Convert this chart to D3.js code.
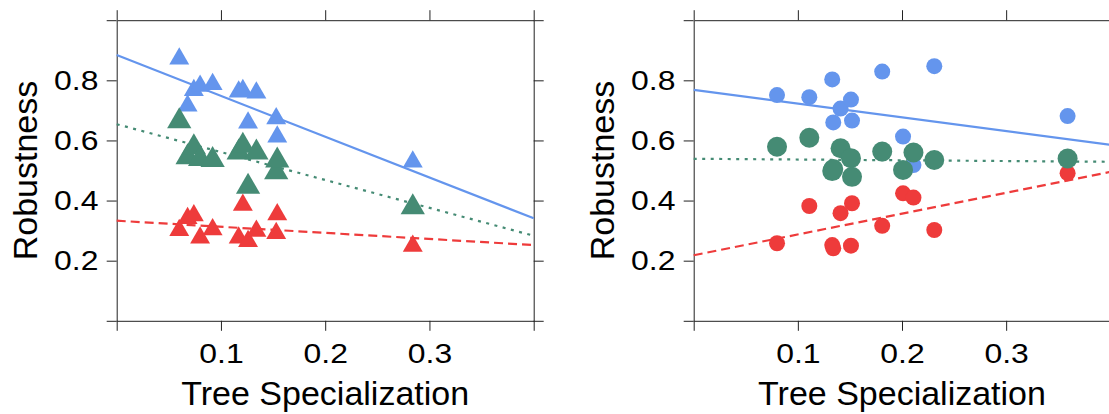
<!DOCTYPE html>
<html>
<head>
<meta charset="utf-8">
<script src="https://cdn.jsdelivr.net/npm/d3@7"></script>
<style>
  body { margin: 0; background: #fff; }
  svg { display: block; }
</style>
</head>
<body>
<svg width="1109" height="414"></svg>
<script>
// site values, left panel (triangles)
var leftX     = [0.060, 0.068, 0.074, 0.080, 0.092, 0.117, 0.121, 0.126, 0.134, 0.153, 0.154, 0.284]
var leftBlue  = [0.872, 0.715, 0.767, 0.781, 0.787, 0.762, 0.767, 0.659, 0.759, 0.673, 0.612, 0.529]
var leftGreen = [0.664, 0.544, 0.577, 0.538, 0.535, 0.560, 0.582, 0.446, 0.560, 0.494, 0.533, 0.378]
var leftRed   = [0.301, 0.341, 0.350, 0.276, 0.304, 0.276, 0.385, 0.265, 0.299, 0.291, 0.354, 0.249]

// right panel (circles)
var rightX     = [0.080, 0.111, 0.133, 0.134, 0.141, 0.151, 0.152, 0.181, 0.201, 0.211, 0.231, 0.359]
var rightBlue  = [0.751, 0.744, 0.803, 0.660, 0.706, 0.736, 0.666, 0.829, 0.613, 0.518, 0.847, 0.681]
var rightGreen = [0.579, 0.609, 0.498, 0.505, 0.574, 0.541, 0.479, 0.563, 0.502, 0.560, 0.535, 0.540]
var rightRed   = [0.258, 0.382, 0.252, 0.241, 0.358, 0.250, 0.391, 0.316, 0.424, 0.410, 0.302, 0.491]

// fitted lines (blue, green, red)
var leftIntercept  = [0.884, 0.654, 0.333]
var leftSlope      = [-1.3575, -0.9275, -0.2025]
var rightIntercept = [0.768, 0.539, 0.218]
var rightSlope     = [-0.457, -0.025, 0.693]

var xTicks = [0, 0.1, 0.2, 0.3, 0.4]
var yTicks = [0, 0.2, 0.4, 0.6, 0.8, 1.0]
var xLabels = ["", "0.1", "0.2", "0.3", ""]
var yLabels = ["", "0.2", "0.4", "0.6", "0.8", ""]

var colors = ["#6495ED", "#458B74", "#EE3B3B"]
var dashes = [null, "3,5.5", "9,5"]
var font = "'Liberation Sans', Arial, sans-serif"

var svg = d3.select("svg")

var drawPanel = function(p)
{
  var xScale = d3.scaleLinear()
                 .domain([0, 0.4])
                 .range([p.left, p.right])

  var yScale = d3.scaleLinear()
                 .domain([0, 1])
                 .range([320.8, 20.2])

  var g = svg.append("g")

  // the reference glyphs are a bit wider than Liberation Sans
  var styleAxis = function(a)
  {
    a.attr("font-family", font).attr("font-size", 28)
    a.selectAll("line,path").attr("stroke", "#222")
    a.selectAll("text").attr("transform", "scale(1.14,1)")
  }

  g.append("g")
   .attr("transform", "translate(0," + yScale(0) + ")")
   .call(d3.axisBottom(xScale).tickValues(xTicks).tickSize(10).tickSizeOuter(0)
           .tickPadding(12).tickFormat(function(d,i){return xLabels[i];}))
   .call(styleAxis)

  g.append("g")
   .attr("transform", "translate(0," + yScale(1) + ")")
   .call(d3.axisTop(xScale).tickValues(xTicks).tickSize(10).tickSizeOuter(0).tickFormat(""))
   .call(styleAxis)

  g.append("g")
   .attr("transform", "translate(" + p.left + ",0)")
   .call(d3.axisLeft(yScale).tickValues(yTicks).tickSize(10).tickSizeOuter(0)
           .tickPadding(6).tickFormat(function(d,i){return yLabels[i];}))
   .call(styleAxis)

  g.append("g")
   .attr("transform", "translate(" + p.right + ",0)")
   .call(d3.axisRight(yScale).tickValues(yTicks).tickSize(10).tickSizeOuter(0).tickFormat(""))
   .call(styleAxis)

  // fitted lines
  p.intercept.forEach(function(b, i){
    var line = d3.line()
                 .x(function(d){return xScale(d);})
                 .y(function(d){return yScale(b + p.slope[i] * d);})
    g.append("path")
     .datum([0, 0.4])
     .attr("d", line)
     .attr("fill", "none")
     .attr("stroke", colors[i])
     .attr("stroke-width", 2.2)
     .attr("stroke-dasharray", dashes[i])
  })

  // points: blue, red, green on top
  var order = [0, 2, 1]
  order.forEach(function(k){
    var pts = g.append("g").selectAll("path")
               .data(p.series[k])
               .enter()
               .append("path")
               .attr("transform", function(d,i){return "translate(" + xScale(p.x[i]) + "," + yScale(d) + ")";})
               .attr("fill", colors[k])
    if (p.shape == "triangle")
      pts.attr("d", d3.symbol().type(d3.symbolTriangle).size(k == 1 ? 255 : 172))
    else
      pts.attr("d", d3.symbol().type(d3.symbolCircle).size(k == 1 ? Math.PI * 100 : Math.PI * 64))
  })

  g.append("text")
   .attr("x", (p.left + p.right) / 2)
   .attr("y", 405)
   .attr("text-anchor", "middle")
   .attr("font-family", font)
   .attr("font-size", 34)
   .text("Tree Specialization")

  g.append("text")
   .attr("transform", "translate(" + (p.left - 80) + "," + yScale(0.5) + ") rotate(-90)")
   .attr("text-anchor", "middle")
   .attr("font-family", font)
   .attr("font-size", 34)
   .text("Robustness")
}

drawPanel({left: 116.7, right: 533.7, x: leftX, series: [leftBlue, leftGreen, leftRed],
           intercept: leftIntercept, slope: leftSlope, shape: "triangle"})
drawPanel({left: 693.7, right: 1110.3, x: rightX, series: [rightBlue, rightGreen, rightRed],
           intercept: rightIntercept, slope: rightSlope, shape: "circle"})
</script>
</body>
</html>
